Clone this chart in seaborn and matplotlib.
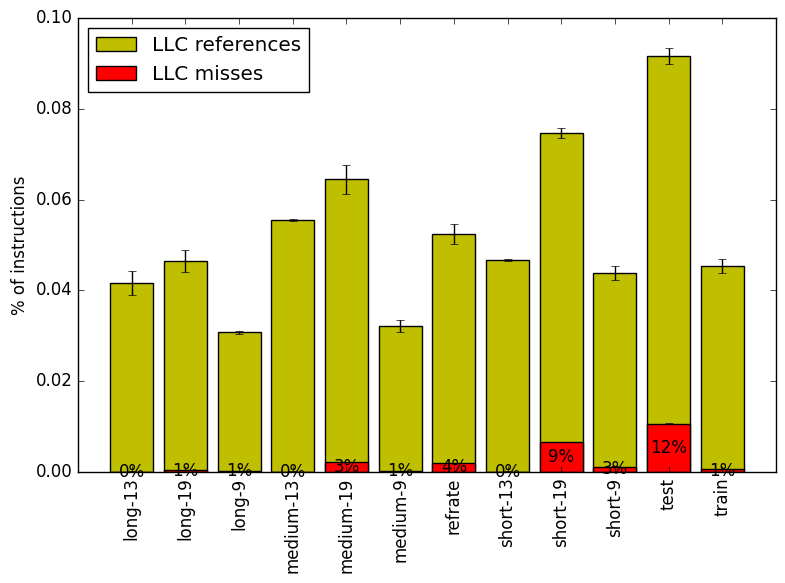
import numpy as np
import pandas as pd
import seaborn as sns
import matplotlib
matplotlib.use("Agg")
import matplotlib.pyplot as plt

## benchmark inputs and the measured LLC rates (fraction of instructions)
inputs = ["long-13", "long-19", "long-9", "medium-13", "medium-19", "medium-9",
          "refrate", "short-13", "short-19", "short-9", "test", "train"]
llc_refs = [0.0416, 0.0465, 0.0308, 0.0555, 0.0645, 0.0322,
            0.0524, 0.0467, 0.0747, 0.0438, 0.0916, 0.0454]
llc_refs_err = [0.0026, 0.0024, 0.0003, 0.0003, 0.0032, 0.0013,
                0.0022, 0.0003, 0.0011, 0.0015, 0.0018, 0.0016]
llc_misses = [0.0001, 0.0004, 0.0003, 0.0001, 0.0022, 0.0003,
              0.0020, 0.0001, 0.0066, 0.0012, 0.0106, 0.0006]
llc_misses_err = [0.00002, 0.00002, 0.00002, 0.00002, 0.00005, 0.00002,
                  0.00005, 0.00002, 0.0001, 0.00003, 0.0001, 0.00002]

df = pd.DataFrame({"input": inputs, "refs": llc_refs, "misses": llc_misses})

plt.style.use("classic")
plt.rcParams["figure.facecolor"] = "white"
plt.rcParams["savefig.facecolor"] = "white"

fig = plt.figure(figsize=(7.85, 5.83), dpi=100)
ax = fig.add_axes([0.0994, 0.1904, 0.8891, 0.7787])

sns.barplot(data=df, x="input", y="refs", color=(0.75, 0.75, 0), saturation=1,
            edgecolor="black", linewidth=1, errorbar=None, width=0.8,
            label="LLC references", ax=ax)
sns.barplot(data=df, x="input", y="misses", color="red", saturation=1,
            edgecolor="black", linewidth=1, errorbar=None, width=0.8,
            label="LLC misses", ax=ax)

pos = np.arange(len(inputs))
ax.errorbar(pos, llc_refs, yerr=llc_refs_err, fmt="none", ecolor="black", capsize=3)
ax.errorbar(pos, llc_misses, yerr=llc_misses_err, fmt="none", ecolor="black", capsize=3)

## miss ratio written in the middle of each red bar
for i in range(len(inputs)):
    pct = 100.0 * llc_misses[i] / llc_refs[i]
    ax.text(pos[i], llc_misses[i] / 2, "%d%%" % round(pct), ha="center",
            va="center", fontsize=12)

ax.set_xlim(-1, len(inputs))
ax.set_ylim(0, 0.10)
ax.set_yticks([0.0, 0.02, 0.04, 0.06, 0.08, 0.10])
ax.set_xticks(pos)
ax.set_xticklabels(inputs, rotation=90, fontsize=12)
ax.set_xlabel("")
ax.set_ylabel("% of instructions", fontsize=12)
ax.legend(loc="upper left", fontsize="large")

fig.savefig("out.png", dpi=100)
